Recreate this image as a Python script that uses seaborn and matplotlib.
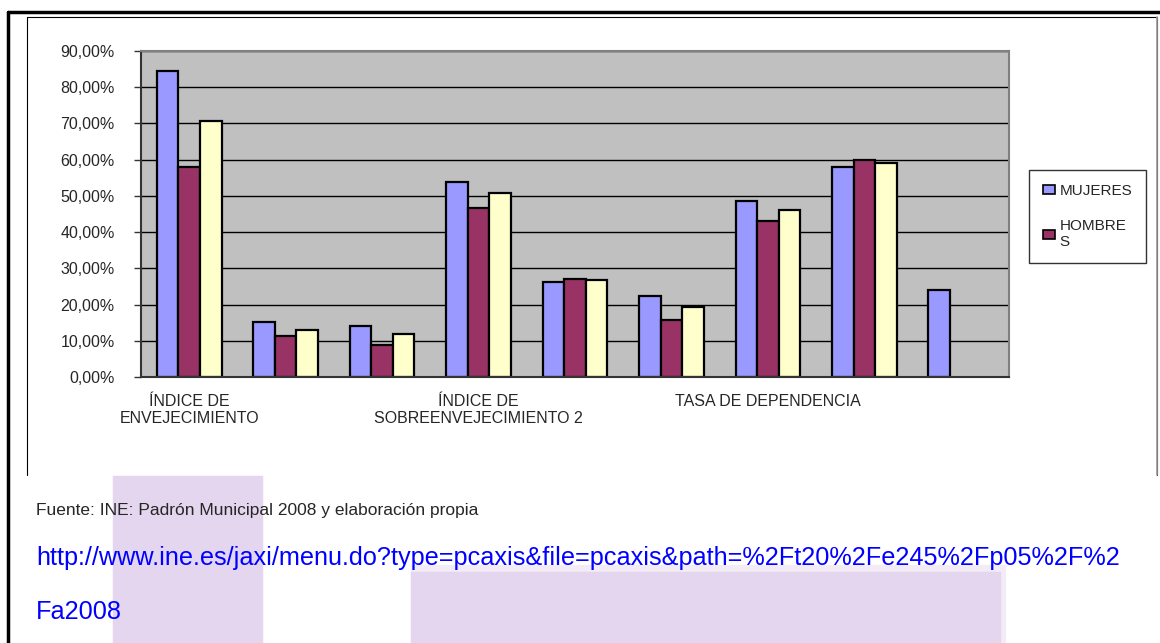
import matplotlib
matplotlib.use("Agg")
import matplotlib.pyplot as plt
import numpy as np
import pandas as pd
import seaborn as sns
from matplotlib.patches import Patch, Rectangle
from matplotlib.lines import Line2D
from matplotlib.ticker import FuncFormatter, FixedLocator

# Data (percent)
categories = list(range(9))
tick_positions = [0, 3, 6]
tick_labels = [
    "ÍNDICE DE\nENVEJECIMIENTO",
    "ÍNDICE DE\nSOBREENVEJECIMIENTO 2",
    "TASA DE DEPENDENCIA",
]
series_names = ["MUJERES", "HOMBRES", "TOTAL"]
legend_labels = ["MUJERES", "HOMBRE\nS"]
mujeres = [84.5, 15.2, 14.1, 53.7, 26.3, 22.5, 48.7, 58.0, 24.0]
hombres = [57.9, 11.3, 8.9, 46.6, 27.1, 15.7, 43.2, 60.0, np.nan]
total = [70.7, 13.1, 11.8, 50.7, 26.9, 19.2, 46.0, 59.1, np.nan]
colors = ["#9999FF", "#993366", "#FFFFCC"]

fuente = "Fuente: INE: Padrón Municipal 2008 y elaboración propia"
url_1 = "http://www.ine.es/jaxi/menu.do?type=pcaxis&file=pcaxis&path=%2Ft20%2Fe245%2Fp05%2F%2"
url_2 = "Fa2008"

df = pd.DataFrame(
    {
        "cat": categories * 3,
        "serie": np.repeat(series_names, len(categories)),
        "valor": mujeres + hombres + total,
    }
).dropna()

sns.set_style("white")
plt.rcParams["font.family"] = ["Liberation Sans", "DejaVu Sans"]

W, H = 1160, 643
fig = plt.figure(figsize=(W / 100, H / 100), dpi=100)


def fx(x):
    return x / W


def fy(y):
    return 1 - y / H


# page decorations: highlight boxes, borders
lav = "#E4D6EE"
fig.patches.append(Rectangle((fx(113), fy(643)), fx(262 - 113), fy(476) - fy(643),
                             transform=fig.transFigure, color=lav, zorder=0))
fig.patches.append(Rectangle((fx(411), fy(643)), fx(1005 - 411), fy(565) - fy(643),
                             transform=fig.transFigure, color="#F3ECF7", zorder=0))
fig.patches.append(Rectangle((fx(411), fy(643)), fx(1000 - 411), fy(572) - fy(643),
                             transform=fig.transFigure, color=lav, zorder=0))
fig.lines.append(Line2D([fx(8), fx(8)], [fy(12), 0], transform=fig.transFigure,
                        color="black", lw=2.5))
fig.lines.append(Line2D([fx(8), 1], [fy(12), fy(12)], transform=fig.transFigure,
                        color="black", lw=2.5))
fig.lines.append(Line2D([fx(27), fx(27), fx(1157), fx(1157)],
                        [fy(475), fy(17), fy(17), fy(475)], transform=fig.transFigure,
                        color="black", lw=0.8))
fig.lines.append(Line2D([fx(1157), fx(1157)], [fy(17), fy(475)], transform=fig.transFigure,
                        color="#999999", lw=1.2))

ax = fig.add_axes([fx(141), fy(377), fx(1009 - 141), fy(51) - fy(377)])
sns.barplot(
    data=df, x="cat", y="valor", hue="serie", hue_order=series_names,
    order=categories, palette=colors, width=0.67, edgecolor="black",
    linewidth=1.6, saturation=1, ax=ax, legend=False,
)
ax.set_facecolor("#C0C0C0")
ax.set_xlim(-0.5, 8.5)
ax.set_ylim(0, 90)
ax.set_yticks(np.arange(0, 91, 10))
ax.yaxis.set_major_formatter(FuncFormatter(lambda v, p: f"{v:.2f}%".replace(".", ",")))
ax.yaxis.grid(True, color="black", lw=1)
ax.set_axisbelow(True)
ax.xaxis.set_major_locator(FixedLocator(tick_positions))
ax.set_xticklabels(tick_labels)
ax.xaxis.set_minor_locator(FixedLocator(np.arange(-0.5, 9, 1)))
ax.tick_params(axis="x", which="major", length=0, pad=12, labelsize=11.5)
ax.tick_params(axis="x", which="minor", length=5, width=1, color="#333333", direction="out")
ax.tick_params(axis="y", length=5, width=1, color="#333333", direction="out", pad=14,
               labelsize=11.5, left=True)
ax.set_xlabel("")
ax.set_ylabel("")
for side in ["top", "right"]:
    ax.spines[side].set_color("#808080")
    ax.spines[side].set_linewidth(1.5)
for side in ["left", "bottom"]:
    ax.spines[side].set_color("#333333")
    ax.spines[side].set_linewidth(1.5)

handles = [Patch(facecolor=c, edgecolor="black", lw=1.2) for c in colors[:2]]
leg = fig.legend(handles, legend_labels, loc="upper left",
                 bbox_to_anchor=(fx(1029), fy(170)), frameon=True, fancybox=False,
                 edgecolor="black", fontsize=11, handlelength=0.8, handleheight=0.6,
                 handletextpad=0.3, labelspacing=1.4, borderpad=0.9, borderaxespad=0)
leg.get_frame().set_linewidth(1.0)

fig.text(fx(36), fy(511), fuente, fontsize=12.5, va="center", ha="left")
fig.text(fx(36), fy(558), url_1, fontsize=18.2, color="#0000FF", va="center", ha="left")
fig.text(fx(36), fy(612), url_2, fontsize=18.2, color="#0000FF", va="center", ha="left")

fig.savefig("out.png", dpi=100, facecolor="white")
